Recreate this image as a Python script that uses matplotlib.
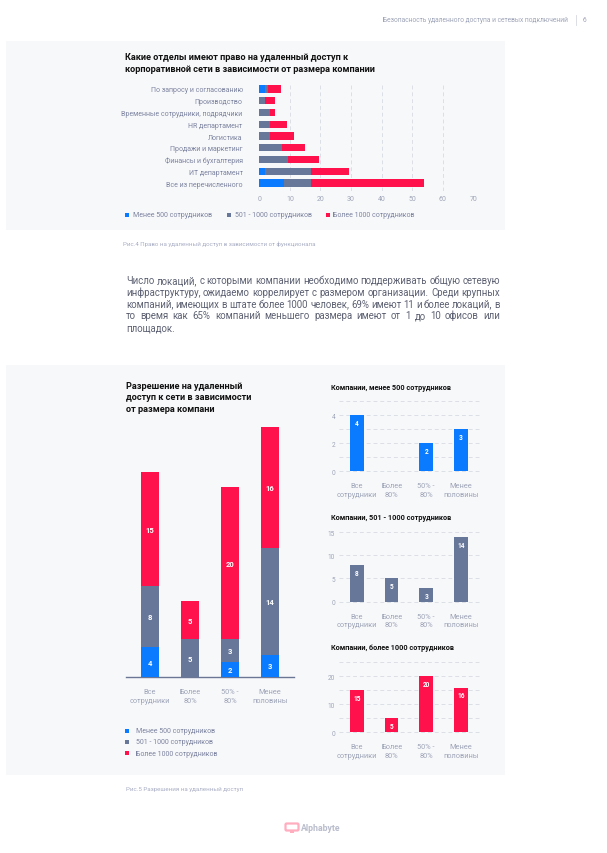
import matplotlib
matplotlib.use("Agg")
import matplotlib.pyplot as plt
from matplotlib.patches import Rectangle, FancyBboxPatch
import numpy as np

plt.rcParams['font.family'] = ['Roboto', 'DejaVu Sans']

W, H = 607, 854
BLUE = '#0a7bff'
GRAY = '#67779a'
RED = '#ff124c'
PANEL = '#f7f8fa'
TICK = '#9fa5b8'
GRID = '#dcdfe6'

# --- data ---
dept_names = ["По запросу и согласованию", "Производство", "Временные сотрудники, подрядчики",
              "HR департамент", "Логистика", "Продажи и маркетинг", "Финансы и бухгалтерия",
              "ИТ департамент", "Все из перечисленного"]
dept_small = [2, 0, 0, 0, 0, 0, 0, 2, 8]
dept_mid = [1, 2, 3.5, 3.5, 3.5, 7.5, 9.5, 15, 9]
dept_large = [4, 3, 1.5, 5.5, 8, 7.5, 10, 12.5, 37]
dept_ticks = [0, 10, 20, 30, 40, 50, 60, 70]

size_names = ["Менее 500 сотрудников", "501 - 1000 сотрудников", "Более 1000 сотрудников"]

perm_cats = ["Все\nсотрудники", "Более\n80%", "50% -\n80%", "Менее\nполовины"]
perm_small = [4, 0, 2, 3]
perm_mid = [8, 5, 3, 14]
perm_large = [15, 5, 20, 16]

paragraph = ["Число локаций, с которыми компании необходимо поддерживать общую сетевую",
             "инфраструктуру, ожидаемо коррелирует с размером организации. Среди крупных",
             "компаний, имеющих в штате более 1000 человек, 69% имеют 11 и более локаций, в",
             "то время как 65% компаний меньшего размера имеют от 1 до 10 офисов или",
             "площадок."]

fig = plt.figure(figsize=(W / 100, H / 100), dpi=100)


def add_ax(x0, y0, x1, y1, z=1):
    return fig.add_axes([x0 / W, 1 - y1 / H, (x1 - x0) / W, (y1 - y0) / H], zorder=z)


# background axes in pixel coordinates
bg = fig.add_axes([0, 0, 1, 1], zorder=0)
bg.set_xlim(0, W)
bg.set_ylim(H, 0)
bg.axis('off')

bg.add_patch(Rectangle((6, 42), 499, 189, color=PANEL, lw=0))
bg.add_patch(Rectangle((6, 366), 499, 410, color=PANEL, lw=0))

# header
bg.text(568, 21, "Безопасность удаленного доступа и сетевых подключений", fontsize=4.8,
        color=TICK, ha='right', va='center')
bg.plot([576, 576], [16, 26], color='#d5d8e0', lw=0.6)
bg.text(583, 21, "6", fontsize=4.8, color=TICK, ha='left', va='center')

# ---------- chart 1: horizontal stacked bars ----------
bg.text(125, 57.5, "Какие отделы имеют право на удаленный доступ к", fontsize=6.6, weight='bold',
        color='#111111', va='center')
bg.text(125, 69.5, "корпоративной сети в зависимости от размера компании", fontsize=6.6, weight='bold',
        color='#111111', va='center')

ax1 = add_ax(259.3, 84, 473.3, 192)
ax1.patch.set_alpha(0)
y = np.arange(len(dept_names))
s = np.array(dept_small, float)
m = np.array(dept_mid, float)
l = np.array(dept_large, float)
ax1.barh(y, s, height=0.6, color=BLUE, zorder=3)
ax1.barh(y, m, left=s, height=0.6, color=GRAY, zorder=3)
ax1.barh(y, l, left=s + m, height=0.6, color=RED, zorder=3)
ax1.set_xlim(0, 70)
ax1.set_ylim(8.68, -0.51)
ax1.set_xticks(dept_ticks)
ax1.set_yticks(y)
ax1.set_yticklabels(dept_names)
for t in dept_ticks[1:]:
    ax1.axvline(t, color=GRID, lw=0.7, ls=(0, (4, 3)), zorder=1)
for sp in ax1.spines.values():
    sp.set_visible(False)
ax1.tick_params(axis='y', length=0, pad=12, labelsize=5.0, labelcolor='#7d84a0')
ax1.tick_params(axis='x', length=0, pad=3, labelsize=5, labelcolor=TICK)

for (xs, xt), c, name in zip([(127.3, 133.3), (229.3, 235), (328.3, 333.3)], [BLUE, GRAY, RED], size_names):
    bg.add_patch(Rectangle((xs - 2, 213.7), 4, 4, color=c, lw=0))
    bg.text(xt, 215.7, name, fontsize=5.0, color='#7d84a0', va='center')

bg.text(123, 244, "Рис.4 Право на удаленный доступ в зависимости от функционала", fontsize=4.4,
        color='#a9aec4', va='center')

# ---------- paragraph (justified) ----------
renderer = fig.canvas.get_renderer()
left, right = 126, 500
PFS = 6.95
probe2 = bg.text(0, 0, 'a a', fontsize=PFS)
probe1 = bg.text(0, 0, 'aa', fontsize=PFS)
space_w = probe2.get_window_extent(renderer).width - probe1.get_window_extent(renderer).width
probe1.remove()
probe2.remove()
for i, line in enumerate(paragraph):
    yy = 281.7 + 11.75 * i + 2.5
    words = line.split(' ')
    objs = [bg.text(0, yy, w_, fontsize=PFS, color='#5d6172', va='baseline') for w_ in words]
    widths = [o.get_window_extent(renderer).width for o in objs]
    if i < len(paragraph) - 1 and len(words) > 1:
        gap = (right - left - sum(widths)) / (len(words) - 1)
    else:
        gap = space_w
    x = left
    for o, wd in zip(objs, widths):
        o.set_x(x)
        x += wd + gap

# ---------- chart 2: stacked columns ----------
for j, line in enumerate(["Разрешение на удаленный", "доступ к сети в зависимости", "от размера компани"]):
    bg.text(126, 386.7 + 11.2 * j, line, fontsize=6.6, weight='bold', color='#111111', va='center')

ax2 = add_ax(125.7, 420, 294, 678.3)
ax2.patch.set_alpha(0)
x = np.arange(len(perm_cats))
ps = np.array(perm_small, float)
pm = np.array(perm_mid, float)
pl = np.array(perm_large, float)
bars = [ax2.bar(x, ps, width=0.45, color=BLUE, zorder=3),
        ax2.bar(x, pm, bottom=ps, width=0.45, color=GRAY, zorder=3),
        ax2.bar(x, pl, bottom=ps + pm, width=0.45, color=RED, zorder=3)]
for bc, vals in zip(bars, [perm_small, perm_mid, perm_large]):
    ax2.bar_label(bc, labels=[str(v) if v else '' for v in vals], label_type='center',
                  color='white', fontsize=5.5, weight='bold')
ax2.set_xlim(-0.6075, 3.6)
ax2.set_ylim(0, 34)
ax2.set_yticks([])
ax2.set_xticks(x)
ax2.set_xticklabels(perm_cats, linespacing=1.25)
for k in ['top', 'left', 'right']:
    ax2.spines[k].set_visible(False)
ax2.spines['bottom'].set_color('#6b7594')
ax2.spines['bottom'].set_linewidth(1)
ax2.tick_params(axis='x', length=0, pad=8, labelsize=5.3, labelcolor=TICK)

for j, (c, name) in enumerate(zip([BLUE, GRAY, RED], size_names)):
    yy = 731.7 + 11.2 * j
    bg.add_patch(Rectangle((125.3, yy - 2), 4, 4, color=c, lw=0))
    bg.text(136, yy, name, fontsize=5.0, color='#7d84a0', va='center')

# ---------- small charts ----------
small_specs = [
    ("Компании, менее 500 сотрудников", perm_small, BLUE, 387.7, 402.3, 472.3,
     [0, 1, 2, 3, 4, 5], ['0', '', '2', '', '4', '']),
    ("Компании, 501 - 1000 сотрудников", perm_mid, GRAY, 518.3, 533, 602.7,
     [0, 5, 10, 15], ['0', '5', '10', '15']),
    ("Компании, более 1000 сотрудников", perm_large, RED, 648.3, 663.3, 733.3,
     [0, 5, 10, 15, 20, 25], ['0', '', '10', '', '20', '']),
]
for title, vals, c, ty, y0, y1, ticks, tlabels in small_specs:
    bg.text(331, ty, title, fontsize=5.2, weight='bold', color='#111111', va='center')
    ax = add_ax(339.3, y0, 481, y1)
    ax.patch.set_alpha(0)
    bc = ax.bar(x, vals, width=0.395, color=c, zorder=3)
    for rect, v in zip(bc, vals):
        if v:
            ax.annotate(str(v), (rect.get_x() + rect.get_width() / 2, v), xytext=(0, -8),
                        textcoords='offset pixels', ha='center', va='center',
                        color='white', fontsize=4.7, weight='bold')
    ax.set_xlim(-0.505, 3.58)
    ax.set_ylim(0, ticks[-1])
    ax.set_yticks(ticks)
    ax.set_yticklabels(tlabels)
    for t in ticks:
        ax.axhline(t, color=GRID, lw=0.7, ls=(0, (4, 3)), zorder=1, clip_on=False)
    ax.set_xticks(x)
    ax.set_xticklabels(perm_cats, linespacing=1.25)
    for sp in ax.spines.values():
        sp.set_visible(False)
    ax.tick_params(axis='y', length=0, pad=3, labelsize=4.7, labelcolor=TICK)
    ax.tick_params(axis='x', length=0, pad=8, labelsize=5.3, labelcolor=TICK)

# ---------- footer ----------
bg.text(126, 790, "Рис.5 Разрешения на удаленный доступ", fontsize=4.4, color='#a9aec4', va='center')
bg.add_patch(FancyBboxPatch((285.5, 824.5), 13, 7, boxstyle="round,pad=0,rounding_size=1.2",
                            fc='white', ec='#ffadbf', lw=1.6))
bg.add_patch(Rectangle((290, 831.5), 4, 2.5, color='#ffadbf', lw=0))
bg.text(301, 828.5, "Alphabyte", fontsize=6.3, weight='bold', color='#b9bdcc', va='center')

fig.savefig("out.png", dpi=100)
